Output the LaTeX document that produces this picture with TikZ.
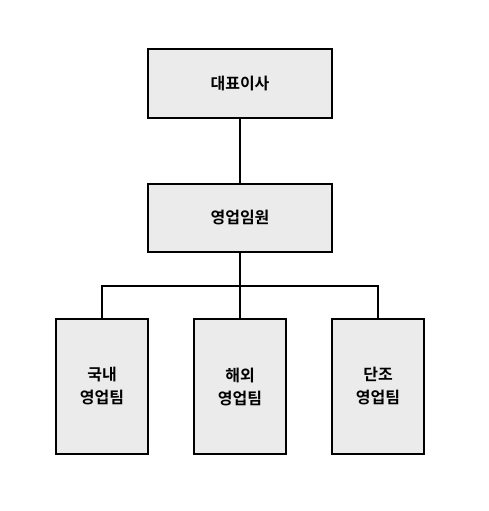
\documentclass[tikz,border=0pt]{standalone}
\usepackage{fontspec}
\newfontfamily\kr{Noto Sans CJK KR}[BoldFont={Noto Sans CJK KR Bold}]
\definecolor{boxfill}{HTML}{EBEBEB}
\tikzset{
  orgbox/.style={draw=black, line width=1.6pt, fill=boxfill, inner sep=0pt,
    font=\kr\bfseries\fontsize{16}{23}\selectfont, align=center},
  link/.style={line width=2.6pt, line cap=butt}
}
\begin{document}
\begin{tikzpicture}[x=1pt,y=-1pt]
\useasboundingbox (0,0) rectangle (489,511);
\fill[white] (0,0) rectangle (489,511);
\node[orgbox, minimum width=184pt, minimum height=69pt] (ceo) at (240,83.5) {대표이사};
\node[orgbox, minimum width=184pt, minimum height=68pt] (exec) at (240,218) {영업임원};
\node[orgbox, minimum width=92pt, minimum height=135pt] (t1) at (102,386.5) {국내\\영업팀};
\node[orgbox, minimum width=92pt, minimum height=135pt] (t2) at (240,386.5) {해외\\영업팀};
\node[orgbox, minimum width=92pt, minimum height=135pt] (t3) at (378,386.5) {단조\\영업팀};
\coordinate (j) at (240,286);
\draw[link] (ceo.south) -- (exec.north);
\draw[link] (exec.south) -- (t2.north);
\draw[link] (t1.north) |- (j) -| (t3.north);
\end{tikzpicture}
\end{document}
